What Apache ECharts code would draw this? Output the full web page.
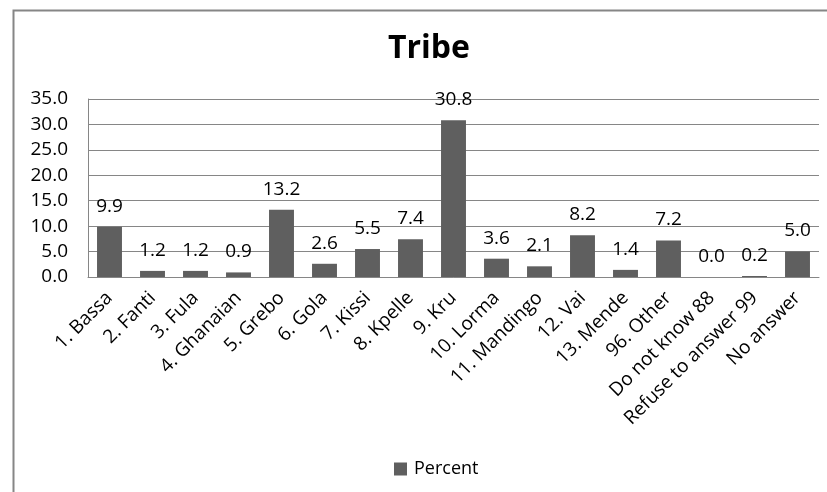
<!DOCTYPE html>
<html><head><meta charset="utf-8">
<script src="https://cdn.jsdelivr.net/npm/echarts@6/dist/echarts.min.js"></script>
<style>html,body{margin:0;padding:0;background:#fff}#c{width:827px;height:492px}</style>
</head><body><div id="c"></div>
<script>
const categories = ["1. Bassa","2. Fanti","3. Fula","4. Ghanaian","5. Grebo","6. Gola","7. Kissi","8. Kpelle","9. Kru","10. Lorma","11. Mandingo","12. Vai","13. Mende","96. Other","Do not know 88","Refuse to answer 99","No answer"];
const percent = [9.9,1.2,1.2,0.9,13.2,2.6,5.5,7.4,30.8,3.6,2.1,8.2,1.4,7.2,0.0,0.2,5.0];
const yTicks = [0,5,10,15,20,25,30,35];
const font = "'Open Sans', 'Liberation Sans', sans-serif";
const chart = echarts.init(document.getElementById('c'), null, {renderer:'canvas'});
chart.setOption({
  animation:false,
  graphic:[{type:'rect',shape:{x:13.5,y:10.5,width:830,height:500},style:{fill:'none',stroke:'#868686',lineWidth:2},z:-1}],
  title:{text:'Tribe',left:383,top:28,textStyle:{fontFamily:font,fontSize:32,fontWeight:'bold',color:'#000'}},
  legend:{top:455,left:389,itemWidth:13,itemHeight:13,icon:'rect',itemGap:4,textStyle:{fontFamily:font,fontSize:18,color:'#000',padding:[0,0,0,2]},data:['Percent']},
  grid:{left:88,right:8,top:99,bottom:215,containLabel:false},
  xAxis:{type:'category',data:categories,
    axisLine:{lineStyle:{color:'#868686'}},axisTick:{show:false},
    axisLabel:{rotate:45,interval:0,fontFamily:font,fontSize:19,color:'#000',margin:18}},
  yAxis:{type:'value',min:yTicks[0],max:yTicks[yTicks.length-1],interval:5,
    axisLine:{show:true,lineStyle:{color:'#868686'}},axisTick:{show:false},
    splitLine:{lineStyle:{color:'#868686'}},
    axisLabel:{formatter:v=>v.toFixed(1),fontFamily:font,fontSize:19,color:'#000',margin:20}},
  series:[{name:'Percent',type:'bar',data:percent,barCategoryGap:'42%',
    itemStyle:{color:'#5f5f5f'},
    label:{show:true,position:'top',distance:11,formatter:p=>p.value.toFixed(1),fontFamily:font,fontSize:19,color:'#000'}}]
});
</script></body></html>
